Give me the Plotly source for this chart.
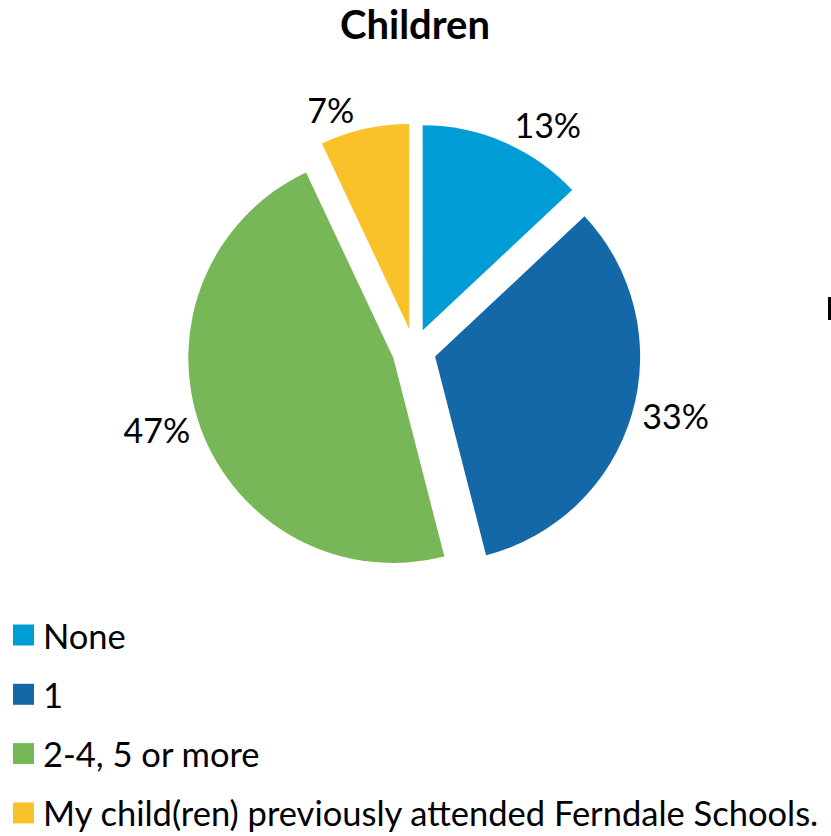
import plotly.graph_objects as go

# Survey answers: how many children attend the schools
categories = ["None", "1", "2-4, 5 or more", "My child(ren) previously attended Ferndale Schools."]
shares = [13, 33, 47, 7]
colors = ["#009CD6", "#1468A8", "#78B757", "#F9C22A"]

FONT = "Lato"
W, H = 831, 836

fig = go.Figure(
    go.Pie(
        labels=categories,
        values=shares,
        marker=dict(colors=colors, line=dict(width=0)),
        sort=False,
        direction="clockwise",
        rotation=0,
        pull=0.107,
        textinfo="percent",
        texttemplate="%{value}%",
        textposition="outside",
        outsidetextfont=dict(family=FONT, size=34, color="#000000"),
        showlegend=False,
        hoverinfo="label+percent",
        domain=dict(x=[187 / W, 641 / W], y=[1 - 578 / H, 1 - 123 / H]),
    )
)

# Legend drawn as a vertical list of swatches and labels at the bottom left
for i, (name, col) in enumerate(zip(categories, colors)):
    yc = 635 + 59.3 * i
    fig.add_shape(
        type="rect", xref="paper", yref="paper",
        x0=13 / W, x1=34 / W, y0=1 - (yc + 10.5) / H, y1=1 - (yc - 10.5) / H,
        fillcolor=col, line=dict(width=0),
    )
    fig.add_annotation(
        text=name, xref="paper", yref="paper",
        x=42 / W, y=1 - yc / H, xanchor="left", yanchor="middle",
        showarrow=False, borderpad=0,
        font=dict(family=FONT, size=34.5, color="#000000"),
    )

# Edge of a neighbouring element, clipped at the right border
fig.add_shape(
    type="rect", xref="paper", yref="paper",
    x0=828 / W, x1=831 / W, y0=1 - 320 / H, y1=1 - 297 / H,
    fillcolor="#000000", line=dict(width=0),
)

fig.update_layout(
    width=W,
    height=H,
    margin=dict(l=0, r=0, t=0, b=0),
    paper_bgcolor="white",
    plot_bgcolor="white",
    title=dict(
        text="<b>Children</b>",
        x=415 / W, xanchor="center",
        y=1 - 25 / H, yanchor="middle",
        font=dict(family=FONT, size=40, color="#000000"),
    ),
)

fig.write_html("out.html")
